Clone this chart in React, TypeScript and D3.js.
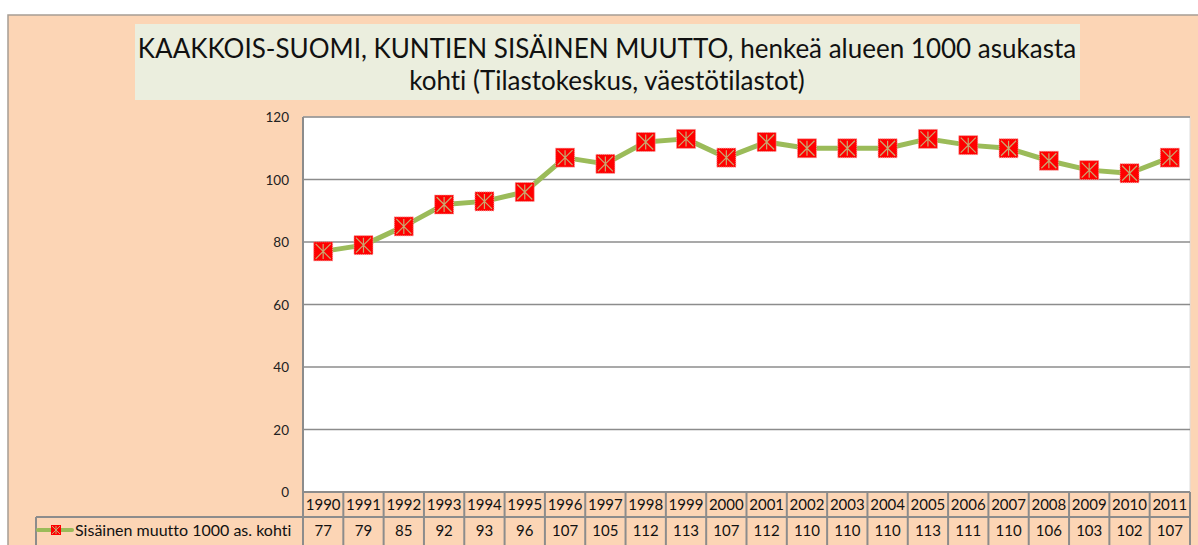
import React from "react";
import * as d3 from "d3";

const years = ["1990","1991","1992","1993","1994","1995","1996","1997","1998","1999","2000","2001","2002","2003","2004","2005","2006","2007","2008","2009","2010","2011"];
const values = [77,79,85,92,93,96,107,105,112,113,107,112,110,110,110,113,111,110,106,103,102,107];
const yTicks = [0,20,40,60,80,100,120];
const titleLines = ["KAAKKOIS-SUOMI, KUNTIEN SISÄINEN MUUTTO, henkeä alueen 1000 asukasta", "kohti (Tilastokeskus, väestötilastot)"];
const seriesName = "Sisäinen muutto 1000 as. kohti";

const W = 1198, H = 545;
const PEACH = "#FCD5B5";
const FONT = "Lato, 'Open Sans', sans-serif";
const noLig = { fontVariantLigatures: "none" as const };

export default function App() {
  const plotL = 303, plotR = 1190, plotT = 117, plotB = 492;
  const x = d3.scaleBand<string>().domain(years).range([plotL, plotR]);
  const y = d3.scaleLinear().domain([0, 120]).range([plotB, plotT]);
  const line = d3.line<number>().x((_, i) => x(years[i])! + x.bandwidth() / 2).y(d => y(d));
  const row1T = 492, row2T = 517;
  const ms = 19;
  const star = (cx: number, cy: number, s: number) => {
    const h = s / 2 - 2;
    return `M${cx - h},${cy - h}L${cx + h},${cy + h}M${cx - h},${cy + h}L${cx + h},${cy - h}M${cx},${cy - h}L${cx},${cy + h}`;
  };
  return (
    <div style={{ position: "fixed", left: 0, top: 0 }}>
      <svg width={W} height={H} style={{ display: "block", ...noLig }}>
        <rect x={0} y={0} width={W} height={H} fill="#fff" />
        <rect x={8} y={15} width={W + 10} height={H} fill={PEACH} stroke="#A69D94" strokeWidth={1.5} />
        <rect x={135} y={24} width={945} height={76} fill="#EBEEDE" />
        {titleLines.map((t, i) => (
          <text key={i} x={607} y={58 + i * 32} textAnchor="middle" fontFamily={FONT} fontSize={26} fill="#111">{t}</text>
        ))}
        <rect x={plotL} y={plotT} width={plotR - plotL} height={plotB - plotT} fill="#fff" stroke="#ddd" strokeWidth={1} />
        {yTicks.map(t => (
          <g key={t}>
            {t > 0 && <line x1={plotL} x2={plotR} y1={y(t)} y2={y(t)} stroke="#8C8C8C" strokeWidth={1.5} />}
            <text x={289} y={y(t) + 5} textAnchor="end" fontFamily={FONT} fontSize={13.5} fill="#222">{t}</text>
          </g>
        ))}
        <line x1={plotL} x2={plotL} y1={plotT} y2={plotB} stroke="#8C8C8C" strokeWidth={2} />
        <path d={line(values)!} fill="none" stroke="#9BBB59" strokeWidth={5} strokeLinejoin="round" />
        {values.map((v, i) => {
          const cx = x(years[i])! + x.bandwidth() / 2, cy = y(v);
          return (
            <g key={i}>
              <rect x={cx - ms / 2} y={cy - ms / 2} width={ms} height={ms} fill="#FF0000" stroke="#F4A0A0" strokeWidth={1} strokeDasharray="1 1" />
              <path d={star(cx, cy, ms)} stroke="#C8A870" strokeWidth={1.2} fill="none" />
            </g>
          );
        })}
        {/* data table */}
        <line x1={plotL} x2={plotR} y1={row1T} y2={row1T} stroke="#8C8C8C" strokeWidth={2} />
        <line x1={36} x2={plotR} y1={row2T} y2={row2T} stroke="#8C8C8C" strokeWidth={2} />
        <line x1={36} x2={36} y1={row2T} y2={H} stroke="#8C8C8C" strokeWidth={2} />
        {years.map((yr, i) => (
          <line key={"v" + i} x1={x(yr)!} x2={x(yr)!} y1={row1T} y2={H} stroke="#8C8C8C" strokeWidth={2} />
        ))}
        <line x1={plotR} x2={plotR} y1={row1T} y2={H} stroke="#8C8C8C" strokeWidth={2} />
        {years.map((yr, i) => (
          <g key={"t" + i}>
            <text x={x(yr)! + x.bandwidth() / 2} y={row1T + 18} textAnchor="middle" fontFamily={FONT} fontSize={15} fill="#111">{yr}</text>
            <text x={x(yr)! + x.bandwidth() / 2} y={row2T + 19} textAnchor="middle" fontFamily={FONT} fontSize={15} fill="#111">{values[i]}</text>
          </g>
        ))}
        <line x1={38} x2={72} y1={row2T + 13} y2={row2T + 13} stroke="#9BBB59" strokeWidth={4} strokeLinecap="round" />
        <rect x={51} y={row2T + 8} width={10} height={10} fill="#FF0000" />
        <path d={star(56, row2T + 13, 12)} stroke="#C8A870" strokeWidth={1} fill="none" />
        <text x={75} y={row2T + 19} fontFamily={FONT} fontSize={16} fill="#111">{seriesName}</text>
      </svg>
    </div>
  );
}
